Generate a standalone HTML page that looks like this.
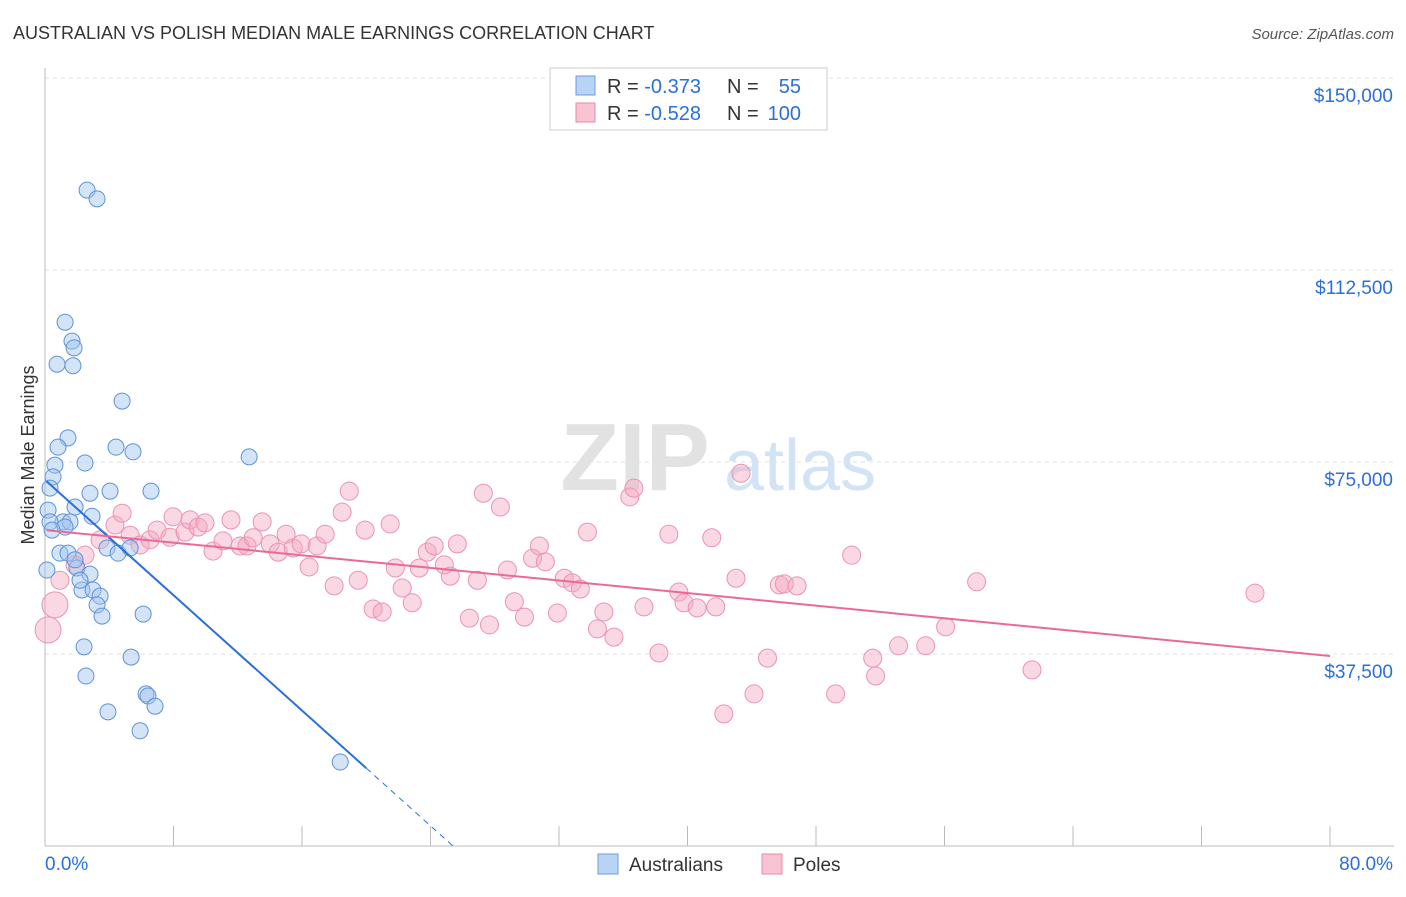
<!DOCTYPE html>
<html><head><meta charset="utf-8"><style>
body{margin:0;background:#fff;font-family:"Liberation Sans",sans-serif;}
svg text{font-family:"Liberation Sans",sans-serif;}
</style></head><body>
<svg id="chart" width="1406" height="892" viewBox="0 0 1406 892" xmlns="http://www.w3.org/2000/svg">
<text x="13" y="39" font-size="18" fill="#333">AUSTRALIAN VS POLISH MEDIAN MALE EARNINGS CORRELATION CHART</text>
<text x="1394" y="39" font-size="15" fill="#555" text-anchor="end" font-style="italic">Source: ZipAtlas.com</text>
<text transform="translate(34,455) rotate(-90)" font-size="18" fill="#333" text-anchor="middle">Median Male Earnings</text>
<g>
<text x="635" y="490" font-size="96" fill="#e2e2e2" text-anchor="middle" font-family="Liberation Serif" font-weight="bold">ZIP</text>
<text x="800" y="490" font-size="72" fill="#d3e3f6" text-anchor="middle">atlas</text>
</g>
<g id="grid"></g>
<g id="axes"></g>
<g id="points"></g>
<g id="lines"></g>
<g>
<rect x="550" y="68" width="277" height="62" fill="#fff" stroke="#ccc"/>
<rect x="576" y="76" width="19" height="19" fill="#b8d3f4" stroke="#6a9be0"/>
<text x="607" y="93" font-size="20" fill="#333">R = <tspan fill="#2a6fdb">-0.373</tspan></text>
<text x="727" y="93" font-size="20" fill="#333">N =</text>
<text x="801" y="93" font-size="20" fill="#2a6fdb" text-anchor="end">55</text>
<rect x="576" y="103" width="19" height="19" fill="#f8c3d3" stroke="#e98aa6"/>
<text x="607" y="120" font-size="20" fill="#333">R = <tspan fill="#2a6fdb">-0.528</tspan></text>
<text x="727" y="120" font-size="20" fill="#333">N =</text>
<text x="801" y="120" font-size="20" fill="#2a6fdb" text-anchor="end">100</text>
</g>
<g>
<rect x="598" y="854" width="20" height="20" fill="#b8d3f4" stroke="#6a9be0"/>
<text x="629" y="871" font-size="19" fill="#333">Australians</text>
<rect x="762" y="854" width="20" height="20" fill="#f8c3d3" stroke="#e98aa6"/>
<text x="793" y="871" font-size="19" fill="#333">Poles</text>
</g>
</svg>
<script>
const yTicks=[150000,112500,75000,37500];
const yTickLabels=["$150,000","$112,500","$75,000","$37,500"];
const xTicks=[0,8,16,24,32,40,48,56,64,72,80];
const xEndLabels=["0.0%","80.0%"];
const blueX=[2.62,3.24,1.25,1.68,1.81,0.75,1.74,4.80,1.43,0.81,4.42,5.48,12.71,0.62,2.49,0.50,2.80,4.05,6.60,0.31,1.87,2.93,0.19,1.12,1.56,0.31,1.25,0.93,1.43,3.86,4.55,5.30,1.99,2.80,2.30,2.99,3.43,3.24,3.55,6.11,2.43,5.36,2.55,6.29,6.41,6.85,3.92,5.92,18.38,0.12,0.44,1.87,2.18];
const blueY=[128100,126400,102300,98600,97300,94100,93800,86900,79700,77900,77900,77000,76000,74400,74800,72100,68900,69300,69300,69900,66200,64400,65600,63300,63300,63300,62300,57200,57200,58200,57200,58200,54300,53100,50000,50000,48800,47100,44900,45300,38900,36900,33200,29700,29300,27300,26200,22500,16400,53900,61700,55900,51900];
const pinkX=[0.19,0.62,0.93,1.87,2.49,3.43,4.36,4.80,5.30,5.92,6.54,6.98,7.78,7.97,8.72,9.03,9.53,9.96,10.46,11.08,11.58,12.15,12.58,12.96,13.52,14.02,14.52,15.01,15.45,15.95,16.44,16.94,17.44,18.00,18.50,18.94,19.50,19.93,20.43,20.99,21.49,21.81,22.24,22.86,23.30,23.80,24.23,24.86,25.23,25.67,26.42,26.92,27.29,27.67,28.35,28.79,29.22,29.85,30.35,30.78,31.15,31.90,32.33,32.83,33.33,33.77,34.39,34.79,35.42,36.41,36.66,37.29,38.22,38.84,39.46,39.78,40.60,41.51,41.76,42.26,43.02,43.33,44.14,44.98,45.72,46.03,46.82,49.22,50.22,51.53,51.71,53.14,54.83,56.07,58.00,61.45,75.33];
const pinkY=[42200,47100,51900,54900,56800,59800,62700,65000,60700,58800,59800,61700,60300,64300,61300,63700,62300,63100,57600,59600,63700,58600,58600,60200,63300,59000,57400,60900,58200,59000,54500,58600,60900,50800,65200,69300,51900,61700,46300,45700,62900,54300,50400,47500,54300,57400,58600,54900,52700,59000,44500,51900,68900,43200,66200,53900,47700,44700,56200,58600,55500,45500,52300,51400,50200,61300,42400,45700,40800,68200,69900,46700,37700,60900,49600,47500,46500,60200,46700,25800,52300,72800,29700,36700,51000,51200,50800,29700,56800,36700,33200,39100,39100,42800,51600,34400,49400];
const blueTrend=[71500,-2815];
const pinkTrend=[61700,-307.5];
const NS="http://www.w3.org/2000/svg";
const X=v=>45+v/80*1285;
const Y=v=>846-v/37500*192;
function mk(tag,attrs,parent){const e=document.createElementNS(NS,tag);for(const k in attrs)e.setAttribute(k,attrs[k]);parent.appendChild(e);return e;}
const grid=document.getElementById('grid'),axes=document.getElementById('axes'),pts=document.getElementById('points'),lines=document.getElementById('lines');
yTicks.forEach((t,i)=>{
 const l=mk('line',{x1:45,x2:1394,y1:Y(t),y2:Y(t),stroke:'#e2e2e2','stroke-dasharray':'4,4'},grid);
 
 
 const tx=mk('text',{x:1393,y:Y(t)+24,'font-size':19,fill:'#2a6fdb','text-anchor':'end'},axes);
 tx.textContent=yTickLabels[i];
 
 
});
const ax=mk('line',{x1:45,x2:45,y1:68,y2:846,stroke:'#bbb'},axes);


const bx=mk('line',{x1:45,x2:1394,y1:846,y2:846,stroke:'#bbb'},axes);


xTicks.forEach(t=>{
 const l=mk('line',{x1:X(t),x2:X(t),y1:826,y2:846,stroke:'#bbb'},axes);
 
 
});
const xl0=mk('text',{x:45,y:870,'font-size':19,fill:'#2a6fdb'},axes);xl0.textContent=xEndLabels[0];


const xl1=mk('text',{x:1393,y:870,'font-size':19,fill:'#2a6fdb','text-anchor':'end'},axes);xl1.textContent=xEndLabels[1];


pinkX.forEach((x,i)=>{
 const r=i<2?13:9;
 const c=mk('circle',{cx:X(x),cy:Y(pinkY[i]),r:r,fill:'rgba(244,168,192,0.45)',stroke:'#eb93ae','stroke-width':1},pts);
 
 
});
blueX.forEach((x,i)=>{
 const c=mk('circle',{cx:X(x),cy:Y(blueY[i]),r:8,fill:'rgba(160,196,238,0.45)',stroke:'#5f92d8','stroke-width':1},pts);
 
 
});
const bY=x=>blueTrend[0]+blueTrend[1]*x;
const pY=x=>pinkTrend[0]+pinkTrend[1]*x;
const b1=mk('line',{x1:X(0.1),y1:Y(bY(0.1)),x2:X(20),y2:Y(bY(20)),stroke:'#2a6fdb','stroke-width':2},lines);


const xz=-blueTrend[0]/blueTrend[1];
const b2=mk('line',{x1:X(20),y1:Y(bY(20)),x2:X(xz),y2:Y(0),stroke:'#2a6fdb','stroke-width':1,'stroke-dasharray':'6,5'},lines);


const p1=mk('line',{x1:X(0.1),y1:Y(pY(0.1)),x2:X(80),y2:Y(pY(80)),stroke:'#e8699a','stroke-width':2},lines);


</script>
</body></html>
